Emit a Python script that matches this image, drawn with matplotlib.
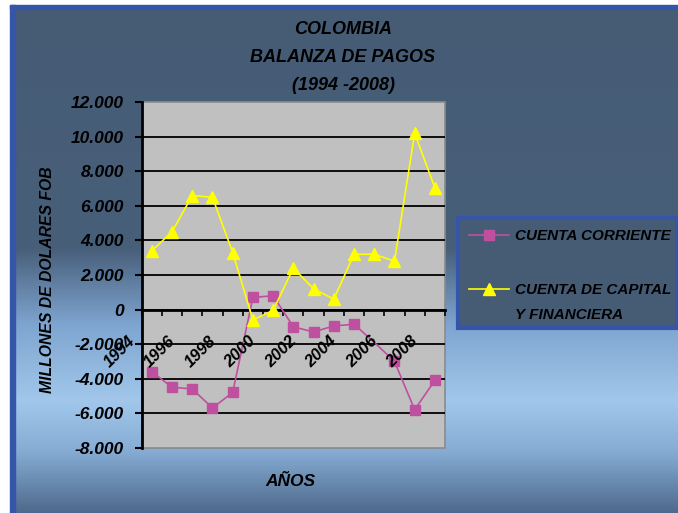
import matplotlib

matplotlib.use("Agg")
import matplotlib.pyplot as plt  # noqa: E402
import numpy as np  # noqa: E402
from matplotlib.colors import LinearSegmentedColormap  # noqa: E402
from matplotlib.lines import Line2D  # noqa: E402
from matplotlib.patches import Rectangle  # noqa: E402
from matplotlib.ticker import FixedLocator, FuncFormatter  # noqa: E402
from matplotlib.transforms import offset_copy  # noqa: E402

years = list(range(1994, 2009))
cuenta_corriente = [-3600, -4500, -4600, -5700, -4800, 700, 800, -1000,
                    -1300, -950, -850, -1900, -3000, -5800, -4100]
cuenta_capital = [3400, 4500, 6600, 6500, 3300, -600, -50, 2400,
                  1200, 600, 3200, 3200, 2800, 10200, 7050]
year_labels = ["1994", "1996", "1998", "2000", "2002", "2004", "2006", "2008"]
title_lines = ["COLOMBIA", "BALANZA DE PAGOS", "(1994 -2008)"]
legend_labels = ["CUENTA CORRIENTE", "CUENTA DE CAPITAL"]
legend_wrap = "Y FINANCIERA"

FONT = dict(family="Liberation Sans", weight="bold", style="italic", color="black")
MAGENTA = "#bf50a0"
YELLOW = "#ffff00"
BORDER = "#3556a8"
SLATE = "#465c75"

fig = plt.figure(figsize=(6.78, 5.13), dpi=100)
fig.patch.set_facecolor("white")

# gradient background (dark slate -> light blue band -> darker at bottom)
bg = fig.add_axes([10 / 678, 0, 1 - 10 / 678, 1 - 5 / 513], zorder=-10)
cmap = LinearSegmentedColormap.from_list(
    "bg",
    [(0.0, SLATE), (0.48, "#485f7a"), (0.63, "#7ea5d0"),
     (0.78, "#a2c7eb"), (0.88, "#86acd4"), (1.0, "#4e6a8c")],
)
bg.imshow(np.linspace(0, 1, 256).reshape(-1, 1), aspect="auto", cmap=cmap,
          extent=[0, 1, 1, 0])
bg.set_axis_off()
fig.patches.append(Rectangle((10 / 678, 1 - 9 / 513), 1, 4 / 513,
                             transform=fig.transFigure, color=BORDER, zorder=5))
fig.patches.append(Rectangle((10 / 678, 0), 5 / 678, 1 - 5 / 513,
                             transform=fig.transFigure, color=BORDER, zorder=5))

ax = fig.add_axes([141.7 / 678, 1 - 447.7 / 513, 303.3 / 678, 345.4 / 513])
ax.set_facecolor("#c0c0c0")
ax.patch.set_edgecolor("#8a8a8a")
ax.patch.set_linewidth(1.2)

x = np.arange(len(years))
cc_marks = [i for i in range(len(years)) if i != 11]
ax.plot(x, cuenta_corriente, color=MAGENTA, lw=1.2, marker="s", ms=7,
        markevery=cc_marks, zorder=3)
ax.plot(x, cuenta_capital, color=YELLOW, lw=1.2, marker="^", ms=9, zorder=4)

ax.set_xlim(-0.5, len(years) - 0.5)
ax.set_ylim(-8000, 12000)
ax.yaxis.set_major_locator(FixedLocator(np.arange(-8000, 12001, 2000)))
ax.yaxis.set_major_formatter(
    FuncFormatter(lambda v, _: f"{v:,.0f}".replace(",", ".")))
ax.grid(axis="y", color="black", lw=1.3)
for gl in (ax.get_ygridlines()[0], ax.get_ygridlines()[-1]):
    gl.set_visible(False)

ax.spines["top"].set_visible(False)
ax.spines["right"].set_visible(False)
ax.spines["left"].set_linewidth(2)
ax.spines["bottom"].set_position(("data", 0))
ax.spines["bottom"].set_linewidth(2)
ax.set_xticks(np.arange(-0.5, len(years), 1.0))
ax.set_xticklabels([])
ax.tick_params(axis="x", direction="out", length=4, width=1.2)
ax.tick_params(axis="y", direction="out", length=5, width=1.5, pad=8)
for lbl in ax.get_yticklabels():
    lbl.set(**FONT, fontsize=12.5)

# rotated year labels on every other category, hanging below the zero line
lbl_tr = offset_copy(ax.transData, fig=fig, x=-4, y=-24, units="dots")
for i, lab in enumerate(year_labels):
    ax.text(2 * i - 0.5, 0, lab, transform=lbl_tr, rotation=45, ha="right",
            va="top", fontsize=12, zorder=6, **FONT)

for line, ypos in zip(title_lines, [29, 57, 86]):
    fig.text(343 / 678, 1 - ypos / 513, line, ha="center", va="center",
             fontsize=13, **FONT)
fig.text(47 / 678, 1 - 280 / 513, "MILLONES DE DOLARES FOB", rotation=90,
         ha="center", va="center", fontsize=11.3, **FONT)
fig.text(290 / 678, 1 - 482 / 513, "AÑOS", ha="center", va="center",
         fontsize=12.5, **FONT)

# legend: Excel-style box, handle aligned with the first line of each label
fig.patches.append(Rectangle((458 / 678, 1 - 328 / 513), 219 / 678, 110 / 513,
                             transform=fig.transFigure, facecolor=SLATE,
                             edgecolor=BORDER, lw=3, zorder=4))
handles = [
    Line2D([], [], color=MAGENTA, lw=1.2, marker="s", ms=7),
    Line2D([], [], color=YELLOW, lw=1.2, marker="^", ms=9),
]
leg = fig.legend(handles, legend_labels,
                 loc="upper left", bbox_to_anchor=(458 / 678, 1 - 218 / 513),
                 bbox_transform=fig.transFigure, borderaxespad=0,
                 frameon=False, handlelength=2.6, handletextpad=0.4,
                 labelspacing=2.6, borderpad=0.75,
                 prop=dict(family="Liberation Sans", weight="bold",
                           style="italic", size=11))
leg.set_zorder(6)
fig.add_artist(plt.Annotation(
    legend_wrap, xy=(0, 0), xycoords=leg.get_texts()[1],
    xytext=(0, -25), textcoords="offset pixels", ha="left", va="bottom",
    fontsize=11, zorder=7, **FONT))

fig.savefig("out.png", dpi=100)
